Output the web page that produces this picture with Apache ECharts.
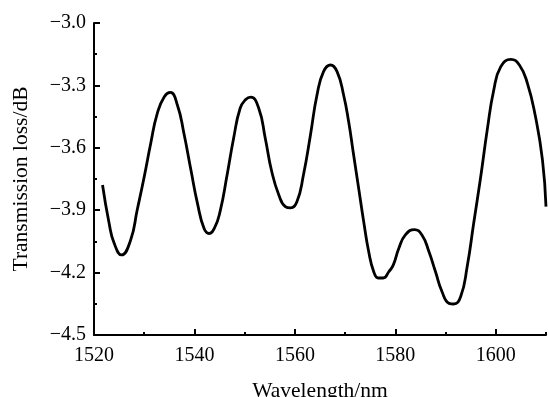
<!DOCTYPE html>
<html>
<head>
<meta charset="utf-8">
<script src="https://cdn.jsdelivr.net/npm/echarts@6/dist/echarts.min.js"></script>
<style>
    html, body { margin: 0; padding: 0; background: #fff; }
    #chart { width: 549px; height: 397px; }
</style>
</head>
<body>
<div id="chart"></div>
<script>
// values
const wavelength = [
    1521.7, 1523.0, 1524.0, 1525.5, 1527.3, 1528.6, 1530.0, 1531.3, 1532.6, 1534.0,
    1535.2, 1536.6, 1537.9, 1539.3, 1540.6, 1541.9, 1542.9, 1544.0, 1545.1, 1546.5,
    1547.8, 1549.1, 1550.2, 1551.2, 1552.8, 1554.1, 1555.4, 1556.8, 1558.1, 1559.1,
    1560.4, 1561.7, 1563.1, 1564.4, 1565.7, 1567.1, 1568.4, 1569.7, 1570.7, 1571.7,
    1572.7, 1573.7, 1574.7, 1575.7, 1576.6, 1577.6, 1578.7, 1579.6, 1580.7, 1582.0,
    1583.8, 1585.3, 1586.7, 1588.0, 1589.3, 1590.7, 1591.6, 1593.0, 1594.3, 1595.6,
    1597.0, 1598.3, 1599.6, 1601.0, 1603.0, 1604.7, 1606.3, 1607.9, 1609.3, 1610.0
];
const loss = [
    -3.779, -3.962, -4.058, -4.115, -4.043, -3.899, -3.739, -3.578, -3.434, -3.354,
    -3.334, -3.394, -3.530, -3.707, -3.867, -3.987, -4.012, -3.985, -3.907, -3.731,
    -3.554, -3.410, -3.368, -3.356, -3.410, -3.554, -3.715, -3.827, -3.883, -3.889,
    -3.859, -3.731, -3.538, -3.346, -3.234, -3.202, -3.234, -3.346, -3.474, -3.635,
    -3.795, -3.955, -4.100, -4.196, -4.226, -4.226, -4.196, -4.163, -4.083, -4.019,
    -3.993, -4.019, -4.100, -4.196, -4.292, -4.348, -4.351, -4.316, -4.172, -3.963,
    -3.739, -3.514, -3.322, -3.210, -3.175, -3.202, -3.290, -3.450, -3.659, -3.883
];
const xMinorStep = 10;
const xMajorStep = 20;
const yTickStep = 0.3;

const font = 'Liberation Serif';
const chart = echarts.init(document.getElementById('chart'), null, { renderer: 'canvas' });

const tickLine = { color: '#000', width: 2 };

chart.setOption({
    animation: false,
    backgroundColor: '#fff',
    textStyle: { fontFamily: font, color: '#000' },
    grid: [
        { left: 94, right: 3, top: 23, bottom: 62, outerBoundsMode: 'none' },
        // narrower twin grid (1520-1600) that carries the long ticks and the labels
        { left: 94, right: 53.2, top: 23, bottom: 62, outerBoundsMode: 'none' }
    ],
    xAxis: [
        {
            type: 'value', gridIndex: 0,
            min: 1520, max: 1610, interval: xMinorStep,
            axisLine: { show: true, lineStyle: { color: '#000', width: 2 } },
            axisTick: { show: true, inside: true, length: 3, lineStyle: tickLine },
            axisLabel: { show: false },
            splitLine: { show: false },
            name: 'Wavelength/nm',
            nameLocation: 'middle',
            nameGap: 45,
            nameTextStyle: { fontFamily: font, fontSize: 21.5, color: '#000', verticalAlign: 'top' }
        },
        {
            type: 'value', gridIndex: 1,
            min: 1520, max: 1600, interval: xMajorStep,
            axisLine: { show: false },
            axisTick: { show: true, inside: true, length: 6, lineStyle: tickLine },
            axisLabel: { fontFamily: font, fontSize: 20, color: '#000', margin: 11, formatter: v => String(v) },
            splitLine: { show: false }
        }
    ],
    yAxis: [
        {
            type: 'value', gridIndex: 0,
            min: -4.5, max: -3.0, interval: yTickStep,
            axisLine: { show: true, lineStyle: { color: '#000', width: 2 } },
            axisTick: { show: true, inside: true, length: 6, lineStyle: tickLine },
            minorTick: { show: true, splitNumber: 2, length: 3, lineStyle: tickLine },
            axisLabel: {
                fontFamily: font, fontSize: 20, color: '#000', margin: 8,
                formatter: v => v.toFixed(1).replace('-', '\u2212')
            },
            splitLine: { show: false },
            name: 'Transmission loss/dB',
            nameLocation: 'middle',
            nameGap: 62,
            nameTextStyle: { fontFamily: font, fontSize: 21.5, color: '#000' }
        },
        { type: 'value', gridIndex: 1, show: false, min: -4.5, max: -3.0 }
    ],
    series: [{
        type: 'line',
        xAxisIndex: 0,
        yAxisIndex: 0,
        data: wavelength.map((w, i) => [w, loss[i]]),
        smooth: 0.5,
        showSymbol: false,
        lineStyle: { color: '#000', width: 2.8 }
    }]
});
</script>
</body>
</html>
